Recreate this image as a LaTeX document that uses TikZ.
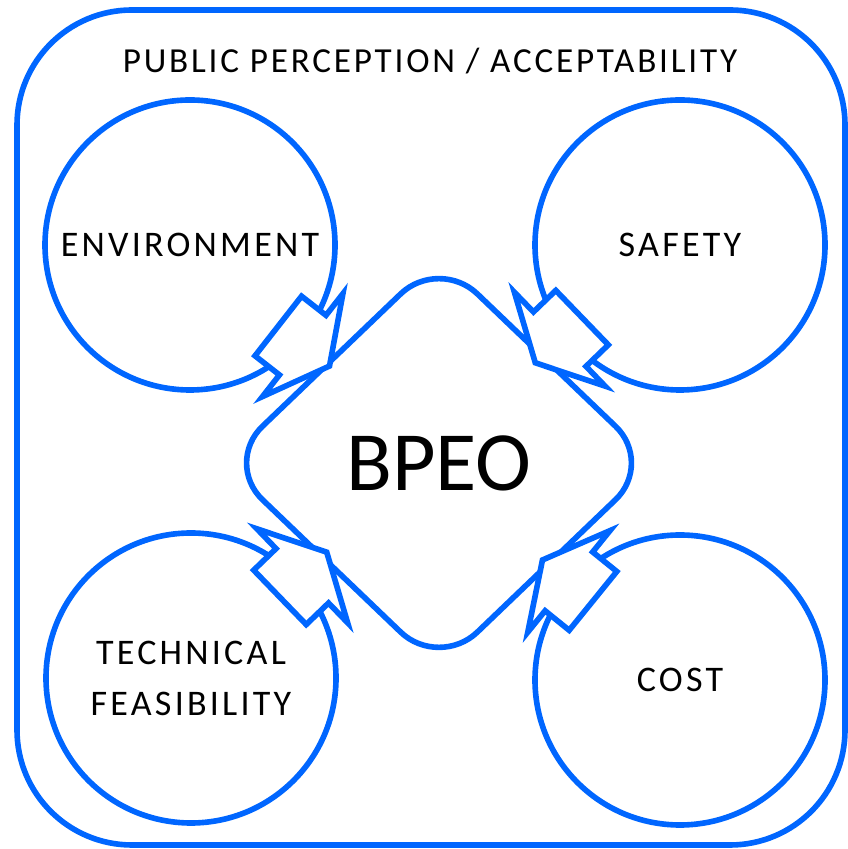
\documentclass[tikz,border=0pt]{standalone}
\usepackage{fontspec}
\setmainfont{Carlito}
\usepackage{tikz}
\usetikzlibrary{shapes.geometric, shapes.arrows}
\usepackage{xcolor}
\definecolor{brightblue}{RGB}{0, 102, 255}

\begin{document}
\begin{tikzpicture}[
    factor/.style={circle, draw=brightblue, line width=3.2pt, minimum size=5.8cm, align=center,
        font=\fontsize{20.5}{29}\selectfont\addfontfeature{LetterSpace=9}},
    core/.style={diamond, draw=brightblue, line width=3.2pt, fill=white, minimum width=8.64cm,
        minimum height=8.28cm, inner sep=0pt, rounded corners=1.06cm, font=\fontsize{48}{52}\selectfont},
    feed/.style={single arrow, draw=brightblue, fill=white, line width=3.2pt, inner xsep=0pt,
        inner ysep=0.7cm, minimum height=1.3cm, single arrow head extend=0.55cm,
        single arrow tip angle=125, anchor=tip}
]
    \useasboundingbox (0,0) rectangle (16.94,16.98);

    % outer frame and its title
    \node[draw=brightblue, line width=3.2pt, rounded corners=2.3cm, minimum width=16.56cm,
        minimum height=16.7cm] (frame) at (8.62,8.43) {};
    \node[font=\fontsize{20}{24}\selectfont\addfontfeature{LetterSpace=8}, anchor=base] (public)
        at (8.6,15.52) {PUBLIC PERCEPTION / ACCEPTABILITY};

    % the four factors
    \node[factor] (env) at (3.8,12.08) {ENVIRONMENT};
    \node[factor] (safety) at (13.6,12.08) {SAFETY};
    \node[factor] (tech) at (3.82,3.42) {TECHNICAL\\FEASIBILITY};
    \node[factor] (cost) at (13.6,3.38) {COST};

    \node[core] (bpeo) at (8.78,7.72) {BPEO};

    % block arrows into the centre
    \node[feed, rotate=-38] (envarrow) at (6.64,9.62) {};
    \node[feed, rotate=-136] (safetyarrow) at (10.66,9.68) {};
    \node[feed, rotate=44] (techarrow) at (6.58,5.98) {};
    \node[feed, rotate=141] (costarrow) at (10.8,5.82) {};
\end{tikzpicture}
\end{document}
